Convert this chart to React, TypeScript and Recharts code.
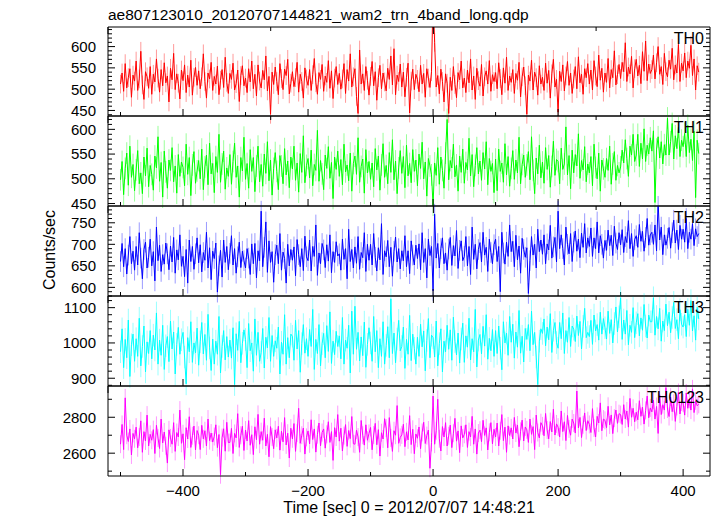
import React from "react";
import { LineChart, Line, XAxis, YAxis, ErrorBar } from "recharts";

// layout of the original plot (pixels)
const W = 717;
const H = 516;
const PLOT_LEFT = 108;
const PLOT_RIGHT = 710;
const PAD = 10;
const FONT = "'Liberation Sans', Arial, Helvetica, sans-serif";

// time axis
const X_DOMAIN = [-520, 443];
const X_MAJOR = [-400, -200, 0, 200, 400];
const X_MINOR = [-500, -300, -100, 100, 300];
const T_START = -500;
const T_STEP = 2.5;

// counts/sec, one value per 2.5 s bin (10 bins per row)
const th0 = [
  512, 538, 495, 560, 503, 527, 548, 481, 533, 519,
  566, 497, 524, 589, 510, 476, 541, 529, 502, 553,
  488, 535, 517, 571, 526, 493, 546, 508, 562, 515,
  531, 470, 549, 522, 584, 499, 536, 514, 477, 545,
  520, 557, 492, 533, 505, 568, 486, 528, 551, 509,
  543, 501, 529, 583, 518, 479, 538, 524, 563, 497,
  530, 512, 554, 487, 521, 546, 504, 575, 516, 490,
  537, 523, 561, 498, 513, 545, 471, 532, 555, 508,
  526, 492, 548, 517, 566, 501, 535, 484, 557, 519,
  503, 544, 522, 578, 496, 530, 441, 540, 511, 552,
  518, 487, 560, 525, 499, 547, 532, 570, 489, 514,
  541, 506, 527, 563, 493, 535, 518, 479, 550, 524,
  509, 546, 497, 534, 572, 515, 488, 539, 523, 558,
  495, 531, 516, 567, 502, 543, 478, 526, 553, 511,
  537, 500, 524, 560, 490, 546, 519, 583, 505, 529,
  548, 483, 443, 592, 512, 536, 497, 553, 521, 486,
  530, 565, 508, 541, 474, 527, 556, 501, 538, 517,
  496, 549, 523, 578, 510, 595, 487, 533, 518, 559,
  505, 540, 482, 528, 561, 444, 519, 547, 499, 535,
  523, 494, 556, 512, 537, 481, 548, 526, 504, 541,
  720, 610, 505, 532, 489, 547, 518, 470, 536, 514,
  443, 528, 497, 553, 511, 480, 539, 522, 566, 503,
  526, 492, 545, 515, 571, 498, 531, 476, 549, 520,
  507, 558, 484, 529, 543, 512, 567, 495, 534, 518,
  539, 501, 562, 525, 487, 550, 514, 575, 497, 531,
  516, 546, 490, 537, 521, 563, 482, 529, 552, 508,
  441, 533, 519, 568, 498, 540, 527, 486, 555, 512,
  528, 497, 561, 514, 544, 479, 536, 570, 505, 523,
  446, 542, 518, 557, 496, 531, 565, 509, 538, 490,
  524, 553, 501, 576, 515, 535, 488, 548, 527, 560,
  512, 545, 498, 567, 531, 506, 580, 521, 549, 493,
  538, 516, 572, 503, 546, 527, 590, 510, 534, 558,
  525, 563, 541, 609, 518, 552, 536, 577, 503, 548,
  570, 531, 556, 513, 588, 542, 613, 520, 559, 537,
  546, 580, 524, 562, 600, 535, 553, 511, 584, 541,
  529, 568, 547, 596, 522, 557, 538, 605, 518, 561,
  543, 585, 527, 566, 549, 603, 532, 571, 498, 555,
  540,
];

const th1 = [
  498, 535, 468, 521, 552, 487, 566, 503, 529, 476,
  518, 557, 490, 512, 470, 544, 506, 562, 484, 527,
  509, 477, 546, 522, 585, 495, 533, 463, 556, 514,
  481, 538, 517, 563, 494, 526, 471, 549, 505, 534,
  523, 486, 570, 509, 543, 466, 528, 555, 491, 516,
  537, 500, 560, 478, 524, 548, 488, 572, 510, 531,
  472, 545, 513, 590, 493, 530, 556, 479, 522, 505,
  549, 489, 535, 572, 503, 526, 463, 543, 516, 584,
  499, 531, 481, 559, 515, 543, 474, 526, 566, 494,
  529, 485, 550, 511, 575, 496, 538, 467, 521, 553,
  515, 478, 547, 526, 490, 561, 508, 536, 482, 544,
  520, 566, 497, 532, 473, 551, 513, 587, 492, 527,
  541, 502, 558, 486, 529, 517, 598, 495, 537, 510,
  478, 548, 521, 565, 501, 533, 460, 544, 519, 556,
  505, 539, 488, 570, 514, 528, 496, 552, 475, 531,
  546, 509, 583, 493, 525, 540, 471, 559, 512, 535,
  499, 532, 484, 561, 518, 546, 477, 528, 571, 503,
  527, 490, 553, 513, 579, 498, 536, 470, 522, 557,
  511, 545, 482, 568, 506, 531, 492, 559, 515, 538,
  486, 550, 521, 574, 500, 534, 465, 541, 526, 508,
  446, 532, 507, 563, 489, 544, 517, 481, 552, 620,
  498, 537, 522, 570, 504, 528, 475, 546, 513, 560,
  491, 533, 518, 582, 506, 549, 484, 527, 563, 510,
  536, 497, 553, 520, 575, 488, 541, 515, 531, 472,
  540, 476, 560, 515, 532, 493, 571, 508, 545, 485,
  521, 557, 499, 538, 512, 584, 490, 529, 548, 503,
  528, 555, 498, 585, 517, 470, 542, 510, 568, 502,
  534, 491, 563, 519, 547, 483, 525, 576, 507, 539,
  535, 490, 562, 519, 530, 605, 508, 547, 480, 558,
  512, 549, 526, 591, 501, 537, 518, 565, 494, 530,
  512, 545, 486, 570, 523, 500, 552, 475, 538, 520,
  503, 541, 517, 566, 489, 530, 555, 497, 527, 512,
  524, 558, 532, 579, 541, 505, 566, 548, 590, 535,
  548, 590, 525, 572, 540, 601, 535, 568, 550, 583,
  556, 597, 452, 560, 585, 542, 575, 530, 569, 548,
  623, 548, 575, 612, 540, 587, 561, 604, 545, 578,
  565, 592, 545, 608, 553, 580, 537, 596, 462, 578,
  551,
];

const th2 = [
  660, 702, 648, 690, 631, 675, 718, 655, 684, 640,
  695, 652, 727, 668, 620, 688, 705, 645, 670, 712,
  650, 683, 615, 740, 662, 698, 637, 676, 654, 703,
  678, 641, 696, 659, 716, 633, 687, 664, 722, 649,
  672, 625, 688, 610, 710, 660, 695, 642, 678, 715,
  657, 699, 636, 681, 663, 728, 645, 692, 618, 684,
  667, 703, 589, 650, 686, 624, 710, 658, 695, 641,
  679, 720, 652, 690, 633, 671, 705, 646, 684, 662,
  645, 690, 668, 630, 701, 655, 702, 622, 685, 662,
  777, 648, 693, 752, 635, 708, 658, 683, 612, 676,
  698, 655, 725, 640, 682, 667, 610, 700, 650, 688,
  663, 694, 627, 711, 676, 648, 690, 639, 719, 671,
  662, 710, 638, 695, 672, 745, 628, 680, 655, 702,
  687, 646, 699, 661, 722, 634, 683, 658, 706, 673,
  678, 640, 712, 665, 690, 620, 735, 660, 688, 645,
  694, 656, 718, 642, 681, 669, 727, 637, 700, 663,
  700, 652, 725, 670, 638, 692, 664, 748, 630, 685,
  671, 709, 648, 693, 626, 684, 717, 659, 690, 643,
  685, 662, 720, 648, 685, 632, 708, 675, 652, 698,
  667, 701, 641, 727, 658, 690, 622, 712, 674, 695,
  592, 770, 668, 702, 645, 690, 715, 655, 680, 640,
  689, 716, 651, 697, 673, 732, 644, 686, 708, 662,
  672, 718, 650, 695, 630, 740, 665, 700, 643, 688,
  704, 659, 728, 675, 693, 637, 712, 681, 655, 699,
  712, 660, 695, 590, 728, 680, 654, 705, 672, 745,
  683, 707, 648, 721, 664, 696, 633, 714, 688, 670,
  692, 586, 662, 718, 675, 700, 645, 735, 683, 710,
  677, 722, 655, 701, 687, 744, 668, 694, 716, 659,
  777, 690, 722, 690, 652, 740, 700, 678, 725, 660,
  705, 731, 684, 712, 669, 726, 693, 748, 680, 715,
  695, 738, 672, 715, 690, 752, 680, 720, 700, 668,
  709, 686, 733, 697, 721, 674, 742, 703, 688, 727,
  699, 734, 681, 718, 704, 755, 690, 725, 672, 711,
  720, 693, 746, 707, 730, 684, 716, 760, 698, 722,
  728, 700, 745, 685, 800, 710, 740, 676, 722, 698,
  714, 739, 691, 727, 756, 703, 733, 688, 744, 712,
  735, 705, 760, 690, 728, 712, 748, 697, 736, 718,
  725,
];

const th3 = [
  975, 1040, 930, 1010, 958, 1065, 905, 995, 1025, 948,
  1012, 962, 1070, 935, 990, 1048, 918, 1003, 970, 1035,
  955, 1022, 980, 1085, 940, 1008, 965, 1050, 925, 992,
  1018, 947, 1062, 983, 1031, 912, 996, 1044, 968, 1009,
  1030, 960, 884, 1015, 975, 1060, 945, 1000, 972, 1042,
  937, 1003, 1058, 969, 1024, 951, 1081, 986, 922, 1011,
  940, 1005, 968, 1075, 915, 990, 1035, 952, 1018, 960,
  1008, 957, 1043, 882, 1026, 979, 1061, 944, 999, 1037,
  1010, 930, 1055, 978, 1000, 920, 1068, 965, 1030, 948,
  973, 1041, 929, 1016, 986, 1072, 948, 1021, 962, 1006,
  985, 1045, 912, 1002, 968, 1080, 940, 1015, 958, 1025,
  1019, 951, 1064, 983, 1035, 917, 998, 1052, 971, 1012,
  962, 1038, 990, 1095, 925, 1010, 970, 1052, 935, 998,
  1027, 958, 1049, 976, 1088, 942, 1005, 967, 1033, 990,
  1020, 955, 1072, 940, 1008, 985, 1050, 915, 1090, 968,
  1104, 982, 1030, 949, 1017, 964, 1059, 931, 996, 1043,
  1000, 948, 1075, 975, 1035, 930, 1012, 962, 1060, 940,
  993, 1046, 958, 1125, 970, 1028, 944, 1011, 1064, 978,
  990, 1045, 928, 1010, 968, 1078, 950, 1025, 985, 940,
  1016, 962, 1053, 989, 1034, 921, 1007, 1069, 958, 1022,
  1015, 960, 1062, 935, 998, 1040, 918, 1005, 975, 1050,
  982, 1037, 951, 1073, 1004, 966, 1028, 943, 1011, 1056,
  945, 1020, 988, 1070, 952, 1012, 975, 1095, 932, 1008,
  1024, 969, 1047, 991, 1080, 954, 1013, 978, 1038, 962,
  1035, 970, 1048, 985, 924, 1060, 1000, 1028, 965, 1075,
  1002, 1053, 957, 1031, 988, 1092, 971, 1019, 946, 1041,
  1010, 1052, 978, 1090, 995, 1030, 960, 882, 1005, 1040,
  1027, 1068, 992, 1045, 1009, 1083, 973, 1036, 1058, 1001,
  985, 1058, 1012, 1085, 970, 1035, 1002, 1072, 990, 1048,
  1039, 1004, 1076, 1021, 1061, 983, 1047, 1098, 1015, 1030,
  1018, 1064, 996, 1079, 1034, 1052, 1008, 1087, 1025, 1069,
  1043, 1011, 1090, 1027, 1066, 1000, 1055, 1102, 1031, 1074,
  1128, 1010, 1065, 1025, 1092, 995, 1050, 1030, 1100, 1015,
  1057, 1083, 1020, 1071, 1036, 1109, 1048, 1014, 1079, 1060,
  1060, 1128, 1022, 1075, 1040, 1098, 1005, 1062, 1035, 1110,
  1049, 1087, 1029, 1072, 1115, 1041, 1066, 1012, 1094, 1053,
  1045, 1080, 1018, 1095, 1050, 1120, 1034, 1077, 1008, 1101,
  1068,
];

const th0123 = [
  2650, 2760, 2620, 2908, 2700, 2665, 2735, 2590, 2710, 2680,
  2745, 2630, 2690, 2780, 2605, 2720, 2668, 2812, 2640, 2705,
  2672, 2731, 2598, 2755, 2684, 2626, 2790, 2657, 2718, 2641,
  2545, 2730, 2685, 2650, 2770, 2610, 2715, 2690, 2840, 2655,
  2708, 2564, 2742, 2679, 2803, 2632, 2697, 2751, 2618, 2726,
  2700, 2620, 2755, 2680, 2725, 2640, 2790, 2670, 2712, 2662,
  2693, 2758, 2631, 2704, 2480, 2687, 2736, 2611, 2772, 2659,
  2660, 2738, 2598, 2710, 2685, 2820, 2632, 2700, 2750, 2615,
  2729, 2668, 2781, 2644, 2703, 2592, 2747, 2675, 2816, 2650,
  2720, 2672, 2795, 2640, 2705, 2580, 2748, 2690, 2625, 2730,
  2685, 2750, 2617, 2722, 2663, 2798, 2646, 2711, 2573, 2739,
  2680, 2765, 2610, 2712, 2850, 2655, 2700, 2740, 2595, 2688,
  2724, 2652, 2786, 2676, 2735, 2606, 2703, 2768, 2641, 2715,
  2735, 2628, 2705, 2775, 2660, 2720, 2560, 2742, 2690, 2815,
  2667, 2739, 2612, 2698, 2759, 2638, 2726, 2681, 2804, 2653,
  2650, 2728, 2690, 2605, 2782, 2700, 2645, 2758, 2672, 2710,
  2743, 2619, 2701, 2766, 2647, 2731, 2584, 2714, 2679, 2792,
  2740, 2630, 2798, 2685, 2610, 2725, 2700, 2865, 2655, 2688,
  2702, 2761, 2636, 2719, 2674, 2809, 2648, 2733, 2597, 2707,
  2683, 2746, 2625, 2716, 2772, 2654, 2698, 2729, 2516, 2660,
  2918, 2650, 2725, 2900, 2680, 2612, 2748, 2690, 2770, 2640,
  2697, 2756, 2631, 2711, 2794, 2667, 2724, 2603, 2752, 2685,
  2705, 2758, 2632, 2720, 2690, 2805, 2650, 2735, 2595, 2712,
  2728, 2664, 2783, 2699, 2741, 2618, 2716, 2770, 2652, 2733,
  2690, 2768, 2640, 2725, 2815, 2670, 2745, 2605, 2752, 2698,
  2741, 2679, 2799, 2712, 2757, 2636, 2722, 2784, 2668, 2746,
  2730, 2660, 2790, 2705, 2748, 2620, 2812, 2715, 2685, 2770,
  2752, 2697, 2821, 2729, 2680, 2776, 2718, 2845, 2701, 2763,
  2745, 2690, 2835, 2720, 2775, 2670, 2810, 2735, 2700, 2790,
  2768, 2712, 2946, 2741, 2799, 2687, 2758, 2824, 2726, 2781,
  2760, 2715, 2848, 2740, 2690, 2805, 2768, 2880, 2725, 2790,
  2783, 2742, 2861, 2757, 2813, 2709, 2795, 2840, 2766, 2820,
  2815, 2760, 2870, 2790, 2835, 2745, 2905, 2800, 2850, 2775,
  2828, 2786, 2892, 2805, 2857, 2762, 2838, 2918, 2797, 2852,
  2830, 2895, 2790, 2860, 2710, 2925, 2815, 2870, 2840, 2965,
  2846, 2804, 2912, 2831, 2878, 2777, 2860, 2938, 2818, 2885,
  2880, 2812, 2935, 2850, 2900, 2840, 2958, 2826, 2891, 2864,
  2872,
];

// typical half-length of the (lighter) error bars, counts/sec
const errTH = [22, 22, 24, 32, 50];

const panels = [
  { key: "th0", label: "TH0", color: "#ff0000", err: errTH[0], domain: [437, 646], major: [450, 500, 550, 600], minorStep: 10, top: 27, bottom: 116 },
  { key: "th1", label: "TH1", color: "#00ff00", err: errTH[1], domain: [445, 627], major: [450, 500, 550, 600], minorStep: 10, top: 116, bottom: 206 },
  { key: "th2", label: "TH2", color: "#0000ff", err: errTH[2], domain: [580, 789], major: [600, 650, 700, 750], minorStep: 10, top: 206, bottom: 296 },
  { key: "th3", label: "TH3", color: "#00ffff", err: errTH[3], domain: [878, 1133], major: [900, 1000, 1100], minorStep: 20, top: 296, bottom: 386 },
  { key: "th0123", label: "TH0123", color: "#ff00ff", err: errTH[4], domain: [2473, 2974], major: [2600, 2800], minorStep: 100, top: 386, bottom: 476 },
];

const rows = th0.map((_, i) => ({
  t: T_START + i * T_STEP,
  th0: th0[i],
  th1: th1[i],
  th2: th2[i],
  th3: th3[i],
  th0123: th0123[i],
  err_th0: errTH[0],
  err_th1: errTH[1],
  err_th2: errTH[2],
  err_th3: errTH[3],
  err_th0123: errTH[4],
}));

const stepTicks = (d: number[], step: number) => {
  const out: number[] = [];
  for (let v = Math.ceil(d[0] / step) * step; v <= d[1]; v += step) out.push(v);
  return out;
};

const fmt = (v: number) => (v < 0 ? "\u2212" + Math.abs(v) : String(v));

const axisLine = { stroke: "#000", strokeWidth: 1 };

// tick marks point into the plot, majors long, minors short
const xTick = (side: "top" | "bottom", withLabel: boolean) => (props: any) => {
  const { x, y, payload } = props;
  const major = X_MAJOR.includes(payload.value);
  const len = major ? 7 : 4;
  const dy = side === "bottom" ? -len : len;
  return (
    <g>
      <line x1={x} y1={y} x2={x} y2={y + dy} stroke="#000" />
      {withLabel && major && (
        <text x={x} y={y + 20} textAnchor="middle" fontSize={15} fontFamily={FONT} fill="#000">
          {fmt(payload.value)}
        </text>
      )}
    </g>
  );
};

const yTick = (side: "left" | "right", majors: number[]) => (props: any) => {
  const { x, y, payload } = props;
  const major = majors.includes(payload.value);
  const len = major ? 7 : 4;
  const dx = side === "left" ? len : -len;
  return (
    <g>
      <line x1={x} y1={y} x2={x + dx} y2={y} stroke="#000" />
      {side === "left" && major && (
        <text x={x - 12} y={y} dy="0.36em" textAnchor="end" fontSize={15} fontFamily={FONT} fill="#000">
          {payload.value}
        </text>
      )}
    </g>
  );
};

function Panel({ p, last }: { p: any; last: boolean }) {
  const h = p.bottom - p.top;
  const below = last ? 40 : PAD;
  const yTicks = stepTicks(p.domain, p.minorStep);
  const xTicks = [...X_MAJOR, ...X_MINOR].sort((a, b) => a - b);
  return (
    <div style={{ position: "absolute", left: 0, top: p.top - PAD, width: W, height: h + PAD + below }}>
      <LineChart
        width={W}
        height={h + PAD + below}
        data={rows}
        margin={{ top: PAD, right: W - PLOT_RIGHT, bottom: last ? 0 : PAD, left: PLOT_LEFT - 60 }}
      >
        <XAxis
          xAxisId="b"
          type="number"
          dataKey="t"
          domain={X_DOMAIN}
          allowDataOverflow
          ticks={xTicks}
          interval={0}
          orientation="bottom"
          mirror={!last}
          height={last ? 40 : 1}
          tickSize={0}
          tickMargin={0}
          tickLine={false}
          axisLine={axisLine}
          tick={xTick("bottom", last)}
        />
        <XAxis
          xAxisId="t"
          type="number"
          domain={X_DOMAIN}
          allowDataOverflow
          ticks={xTicks}
          interval={0}
          orientation="top"
          mirror
          height={1}
          tickSize={0}
          tickMargin={0}
          tickLine={false}
          axisLine={axisLine}
          tick={xTick("top", false)}
        />
        <YAxis
          yAxisId="l"
          type="number"
          domain={p.domain}
          allowDataOverflow
          ticks={yTicks}
          interval={0}
          orientation="left"
          width={60}
          tickSize={0}
          tickMargin={0}
          tickLine={false}
          axisLine={axisLine}
          tick={yTick("left", p.major)}
        />
        <YAxis
          yAxisId="r"
          type="number"
          domain={p.domain}
          allowDataOverflow
          ticks={yTicks}
          interval={0}
          orientation="right"
          mirror
          width={1}
          tickSize={0}
          tickMargin={0}
          tickLine={false}
          axisLine={axisLine}
          tick={yTick("right", p.major)}
        />
        <Line
          xAxisId="b"
          yAxisId="l"
          type="linear"
          dataKey={p.key}
          stroke={p.color}
          strokeWidth={1}
          dot={false}
          isAnimationActive={false}
        >
          <ErrorBar
            dataKey={"err_" + p.key}
            direction="y"
            width={0}
            stroke={p.color}
            strokeOpacity={0.4}
            strokeWidth={1}
            isAnimationActive={false}
          />
        </Line>
      </LineChart>
    </div>
  );
}

export default function App() {
  return (
    <div style={{ position: "absolute", left: 0, top: 0, width: W, height: H, background: "#fff", fontFamily: FONT }}>
      {panels.map((p, i) => (
        <Panel key={p.key} p={p} last={i === panels.length - 1} />
      ))}
      <svg width={W} height={H} style={{ position: "absolute", left: 0, top: 0, pointerEvents: "none" }}>
        <text x={PLOT_LEFT} y={20} fontSize={15.5} fontFamily={FONT} fill="#000">
          ae807123010_20120707144821_wam2_trn_4band_long.qdp
        </text>
        <text x={409} y={513} textAnchor="middle" fontSize={16} fontFamily={FONT} fill="#000">
          Time [sec] 0 = 2012/07/07 14:48:21
        </text>
        <text x={55} y={250} textAnchor="middle" fontSize={16} fontFamily={FONT} fill="#000" transform="rotate(-90 55 250)">
          Counts/sec
        </text>
        {panels.map((p) => (
          <text key={p.key} x={704} y={p.top + 16.5} textAnchor="end" fontSize={16} fontFamily={FONT} fill="#000">
            {p.label}
          </text>
        ))}
      </svg>
    </div>
  );
}
